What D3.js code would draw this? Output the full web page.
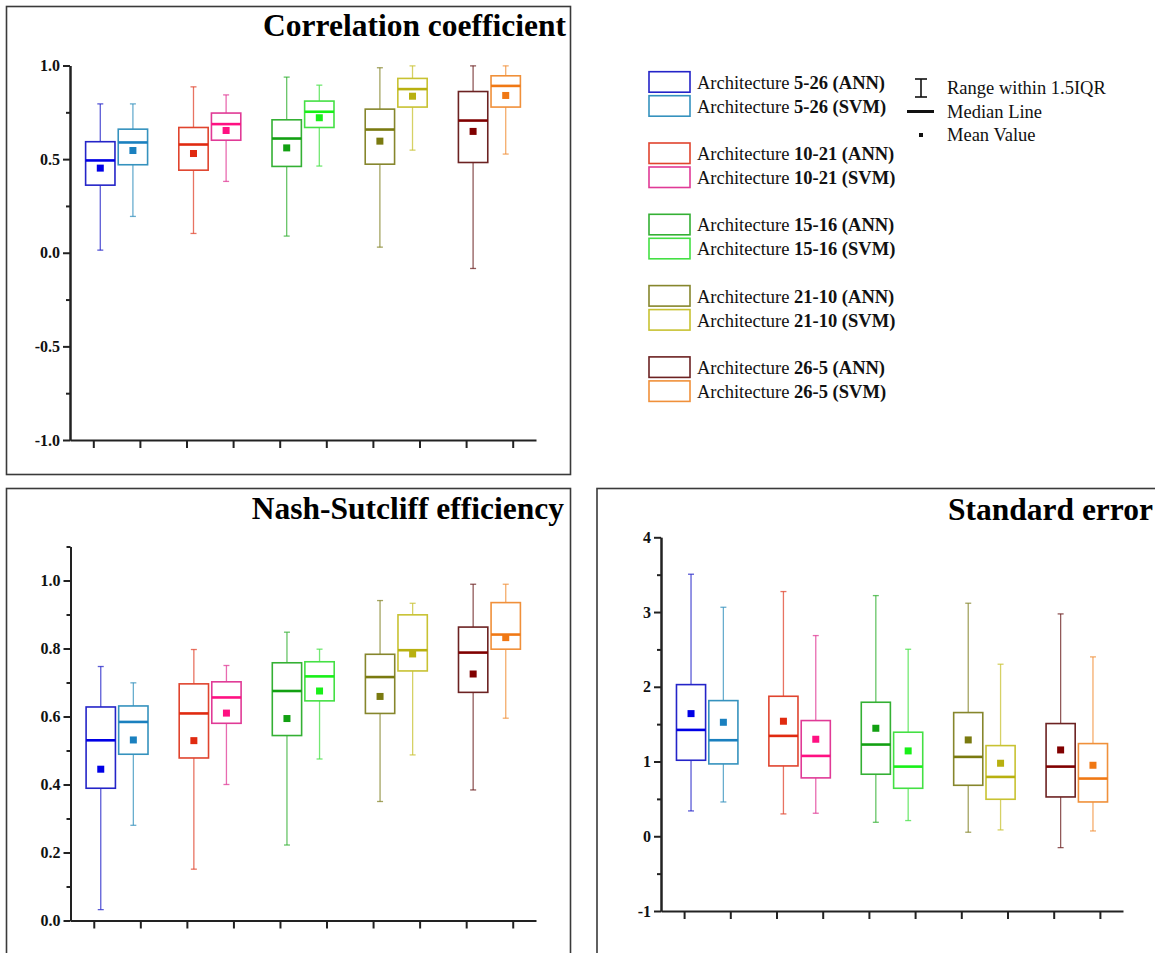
<!DOCTYPE html>
<html>
<head>
<meta charset="utf-8">
<script src="https://cdn.jsdelivr.net/npm/d3@7"></script>
<style>
  body { margin: 0; background: #fff; }
  svg { display: block; }
</style>
</head>
<body>
<div id="chart"></div>
<script>
// categories
var archs = ["5-26", "10-21", "15-16", "21-10", "26-5"];
var models = ["ANN", "SVM"];

// one colour per box, order: 5-26 ANN, 5-26 SVM, 10-21 ANN, ...
var colors = ["#2424c8", "#3592be", "#e0442e", "#e03a96", "#34b034",
              "#44e044", "#86862c", "#c8c232", "#6c2222", "#f0903a"];
var meanColors = ["#0000e6", "#1a80bf", "#e02a10", "#ff1082", "#12a012",
                  "#18f018", "#7a7a10", "#b8b010", "#800000", "#f07814"];

// Correlation coefficient
var ccLow  = [0.014, 0.194, 0.103, 0.381, 0.089, 0.463, 0.030, 0.548, -0.084, 0.527];
var ccQ1   = [0.361, 0.470, 0.441, 0.601, 0.461, 0.669, 0.473, 0.778, 0.482, 0.778];
var ccMed  = [0.493, 0.589, 0.578, 0.687, 0.610, 0.753, 0.658, 0.874, 0.706, 0.891];
var ccQ3   = [0.593, 0.660, 0.669, 0.746, 0.710, 0.810, 0.767, 0.931, 0.861, 0.945];
var ccHigh = [0.795, 0.795, 0.886, 0.843, 0.938, 0.895, 0.988, 0.998, 0.998, 0.998];
var ccMean = [0.452, 0.546, 0.530, 0.653, 0.560, 0.721, 0.596, 0.836, 0.648, 0.840];

// Nash-Sutcliff efficiency
var nseLow  = [0.032, 0.280, 0.151, 0.400, 0.222, 0.475, 0.350, 0.487, 0.384, 0.595];
var nseQ1   = [0.389, 0.489, 0.478, 0.580, 0.544, 0.646, 0.609, 0.734, 0.671, 0.798];
var nseMed  = [0.530, 0.584, 0.609, 0.656, 0.675, 0.718, 0.716, 0.795, 0.788, 0.841];
var nseQ3   = [0.628, 0.631, 0.696, 0.702, 0.758, 0.761, 0.783, 0.899, 0.863, 0.935];
var nseHigh = [0.747, 0.699, 0.797, 0.750, 0.848, 0.798, 0.941, 0.933, 0.989, 0.989];
var nseMean = [0.445, 0.531, 0.529, 0.610, 0.594, 0.675, 0.659, 0.784, 0.725, 0.832];

// Standard error
var seLow  = [0.339, 0.459, 0.299, 0.308, 0.187, 0.210, 0.054, 0.085, -0.152, 0.071];
var seQ1   = [1.017, 0.968, 0.941, 0.781, 0.830, 0.642, 0.682, 0.495, 0.526, 0.459];
var seMed  = [1.423, 1.285, 1.343, 1.075, 1.227, 0.932, 1.062, 0.794, 0.932, 0.772];
var seQ3   = [2.029, 1.815, 1.873, 1.548, 1.793, 1.392, 1.655, 1.213, 1.508, 1.240];
var seHigh = [3.506, 3.064, 3.274, 2.685, 3.220, 2.502, 3.118, 2.302, 2.975, 2.400];
var seMean = [1.641, 1.525, 1.539, 1.298, 1.445, 1.142, 1.289, 0.977, 1.155, 0.950];

var ccTicks = [-1, -0.5, 0, 0.5, 1];
var ccMinor = [-0.75, -0.25, 0.25, 0.75];
var nseTicks = [0, 0.2, 0.4, 0.6, 0.8, 1.0];
var nseMinor = [0.1, 0.3, 0.5, 0.7, 0.9, 1.1];
var seTicks = [-1, 0, 1, 2, 3, 4];
var seMinor = [-0.5, 0.5, 1.5, 2.5, 3.5];

var wide = 1155;
var high = 953;
var serif = "'Liberation Serif', 'Times New Roman', serif";

var svg = d3.select("#chart").append("svg")
  .attr("width", wide)
  .attr("height", high);

function styleAxis(sel) {
  sel.select(".domain").attr("stroke", "#222").attr("stroke-width", 2);
  sel.selectAll(".tick line").attr("stroke", "#222").attr("stroke-width", 2);
  sel.selectAll(".tick text")
    .attr("font-family", serif).attr("font-weight", "bold")
    .attr("font-size", 16).attr("fill", "#111");
}

function drawPanel(p) {
  var g = svg.append("g");

  g.append("rect")
    .attr("x", p.frame[0]).attr("y", p.frame[1])
    .attr("width", p.frame[2]).attr("height", p.frame[3])
    .attr("fill", "none").attr("stroke", "#3a3a3a").attr("stroke-width", 1.6);

  var x = d3.scaleLinear().domain([0, 10]).range([p.left, p.right]);
  var y = d3.scaleLinear().domain(p.domain).range([p.bottom, p.top]);

  g.append("g")
    .attr("transform", "translate(0," + p.bottom + ")")
    .call(d3.axisBottom(x).tickValues(d3.range(0.5, 10, 1)).tickSize(8).tickSizeOuter(0).tickFormat(""))
    .call(styleAxis);

  g.append("g")
    .attr("transform", "translate(" + p.left + ",0)")
    .call(d3.axisLeft(y).tickValues(p.minor).tickSize(4).tickSizeOuter(0).tickFormat(""))
    .call(styleAxis);

  g.append("g")
    .attr("transform", "translate(" + p.left + ",0)")
    .call(d3.axisLeft(y).tickValues(p.major).tickSize(7).tickSizeOuter(0).tickPadding(3).tickFormat(p.fmt))
    .call(styleAxis);

  var rows = d3.range(10).map(function(i) {
    return { i: i, low: p.low[i], q1: p.q1[i], med: p.med[i], q3: p.q3[i], high: p.high[i], mean: p.mean[i] };
  });
  var bw = x(0.63) - x(0);
  function cx(d) {
    return x(d.i + 0.5 + (d.i % 2 ? -0.15 : 0.15));
  }

  var boxes = g.selectAll("g.box").data(rows).enter().append("g").attr("class", "box");

  boxes.append("line")
    .attr("x1", cx).attr("x2", cx)
    .attr("y1", function(d) { return y(d.high); })
    .attr("y2", function(d) { return y(d.q3); })
    .attr("stroke", function(d) { return colors[d.i]; })
    .attr("stroke-opacity", 0.75).attr("stroke-width", 1.3);
  boxes.append("line")
    .attr("x1", cx).attr("x2", cx)
    .attr("y1", function(d) { return y(d.q1); })
    .attr("y2", function(d) { return y(d.low); })
    .attr("stroke", function(d) { return colors[d.i]; })
    .attr("stroke-opacity", 0.75).attr("stroke-width", 1.3);
  ["high", "low"].forEach(function(k) {
    boxes.append("line")
      .attr("x1", function(d) { return cx(d) - 3; })
      .attr("x2", function(d) { return cx(d) + 3; })
      .attr("y1", function(d) { return y(d[k]); })
      .attr("y2", function(d) { return y(d[k]); })
      .attr("stroke", function(d) { return colors[d.i]; })
      .attr("stroke-opacity", 0.75).attr("stroke-width", 1.3);
  });

  boxes.append("rect")
    .attr("x", function(d) { return cx(d) - bw / 2; })
    .attr("y", function(d) { return y(d.q3); })
    .attr("width", bw)
    .attr("height", function(d) { return y(d.q1) - y(d.q3); })
    .attr("fill", "none")
    .attr("stroke", function(d) { return colors[d.i]; })
    .attr("stroke-width", 1.6);

  boxes.append("line")
    .attr("x1", function(d) { return cx(d) - bw / 2; })
    .attr("x2", function(d) { return cx(d) + bw / 2; })
    .attr("y1", function(d) { return y(d.med); })
    .attr("y2", function(d) { return y(d.med); })
    .attr("stroke", function(d) { return meanColors[d.i]; })
    .attr("stroke-width", 2.6);

  boxes.append("rect")
    .attr("x", function(d) { return cx(d) - 3.5; })
    .attr("y", function(d) { return y(d.mean) - 3.5; })
    .attr("width", 7).attr("height", 7)
    .attr("fill", function(d) { return meanColors[d.i]; });

  g.append("text")
    .attr("x", p.titleX).attr("y", p.titleY)
    .attr("text-anchor", "end")
    .attr("font-family", serif).attr("font-weight", "bold").attr("font-size", 31.5)
    .attr("fill", "#000")
    .text(p.title);
}

var fmt1 = function(d) { return d.toFixed(1); };
var fmt0 = function(d) { return String(d); };

drawPanel({
  frame: [6.5, 6.5, 564, 468], left: 70, right: 536, top: 65.5, bottom: 440,
  domain: [-1, 1], major: ccTicks, minor: ccMinor, fmt: fmt1,
  low: ccLow, q1: ccQ1, med: ccMed, q3: ccQ3, high: ccHigh, mean: ccMean,
  title: "Correlation coefficient", titleX: 566, titleY: 36
});

drawPanel({
  frame: [6.5, 488.5, 564, 480], left: 70.5, right: 536, top: 546.5, bottom: 920.5,
  domain: [0, 1.1], major: nseTicks, minor: nseMinor, fmt: fmt1,
  low: nseLow, q1: nseQ1, med: nseMed, q3: nseQ3, high: nseHigh, mean: nseMean,
  title: "Nash-Sutcliff efficiency", titleX: 564, titleY: 519
});

drawPanel({
  frame: [597, 488.5, 580, 480], left: 661, right: 1123, top: 537.3, bottom: 911,
  domain: [-1, 4], major: seTicks, minor: seMinor, fmt: fmt0,
  low: seLow, q1: seQ1, med: seMed, q3: seQ3, high: seHigh, mean: seMean,
  title: "Standard error", titleX: 1153, titleY: 520
});

// legend of boxes
var legendRows = [];
archs.forEach(function(a, gi) {
  models.forEach(function(m, mi) {
    legendRows.push({ arch: a, model: m, i: gi * 2 + mi, top: 71.7 + gi * 71.3 + mi * 24 });
  });
});

var leg = svg.append("g");
var item = leg.selectAll("g").data(legendRows).enter().append("g");
item.append("rect")
  .attr("x", 649).attr("y", function(d) { return d.top; })
  .attr("width", 41).attr("height", 20.5)
  .attr("fill", "none")
  .attr("stroke", function(d) { return colors[d.i]; })
  .attr("stroke-width", 1.6);
var label = item.append("text")
  .attr("x", 697).attr("y", function(d) { return d.top + 17; })
  .attr("font-family", serif).attr("font-size", 18.5).attr("fill", "#111");
label.append("tspan").text("Architecture ");
label.append("tspan").attr("font-weight", "bold").text(function(d) { return d.arch + " (" + d.model + ")"; });

// key for the box parts
var key = svg.append("g").attr("stroke", "#111");
key.append("line").attr("x1", 921).attr("x2", 921).attr("y1", 79).attr("y2", 97).attr("stroke-width", 1.6);
key.append("line").attr("x1", 915).attr("x2", 927).attr("y1", 79).attr("y2", 79).attr("stroke-width", 1.6);
key.append("line").attr("x1", 915).attr("x2", 927).attr("y1", 97).attr("y2", 97).attr("stroke-width", 1.6);
key.append("line").attr("x1", 907).attr("x2", 934).attr("y1", 111.5).attr("y2", 111.5).attr("stroke-width", 3);
key.append("rect").attr("x", 919).attr("y", 133).attr("width", 4).attr("height", 4).attr("fill", "#111").attr("stroke", "none");

var keyText = ["Range within 1.5IQR", "Median Line", "Mean Value"];
svg.append("g").selectAll("text").data(keyText).enter().append("text")
  .attr("x", 947)
  .attr("y", function(d, i) { return 94 + i * 23.5; })
  .attr("font-family", serif).attr("font-size", 18.5).attr("fill", "#111")
  .text(function(d) { return d; });
</script>
</body>
</html>
